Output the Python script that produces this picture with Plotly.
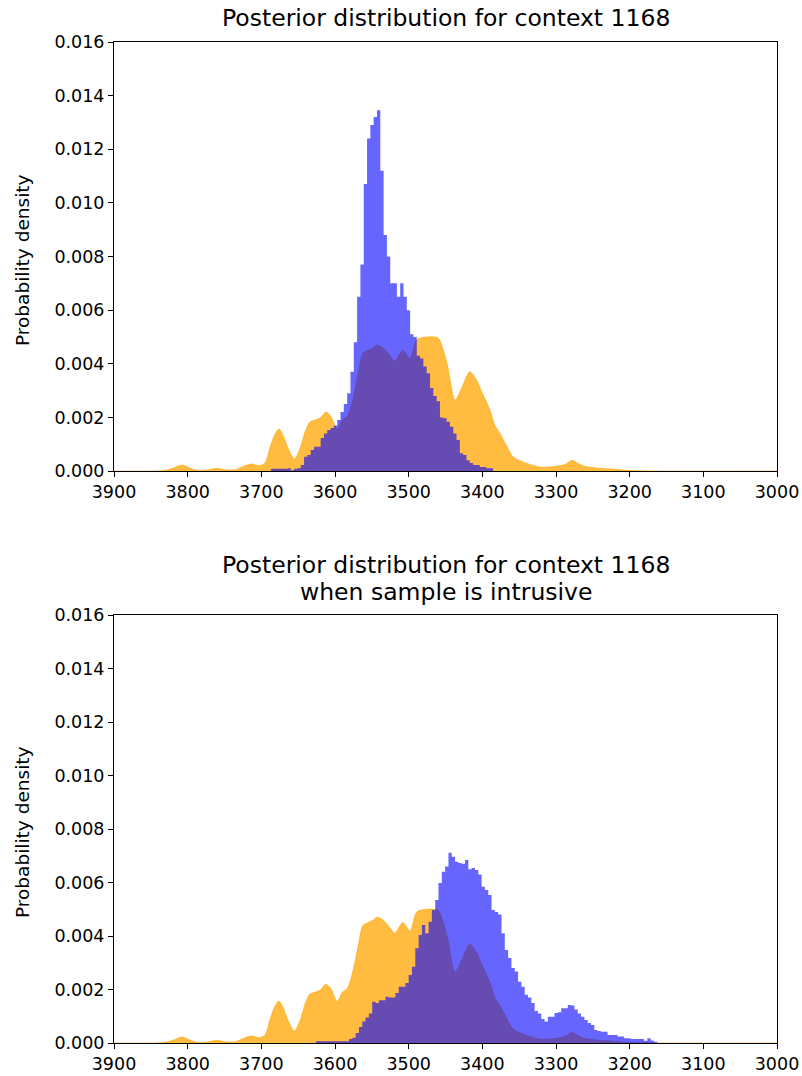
import numpy as np
import plotly.graph_objects as go

# ---------------- data ----------------
# prior / KDE curve (same in both panels)
kde_x = [3900, 3850, 3830, 3818, 3808, 3798, 3788, 3775, 3760, 3748, 3735, 3722, 3713,
         3703, 3695, 3688, 3681, 3676, 3670, 3663, 3655, 3648, 3640, 3634, 3627, 3620,
         3612, 3605, 3597, 3590, 3583, 3576, 3568, 3562, 3555, 3548, 3543, 3535, 3525,
         3519, 3508, 3498, 3489, 3475, 3460, 3454, 3447, 3437, 3428, 3417, 3408, 3400,
         3390, 3383, 3376, 3369, 3358, 3345, 3322, 3299, 3287, 3278, 3270, 3263, 3240,
         3223, 3200, 3150, 3000]
kde_y = [0, 0, 0.00003, 0.00012, 0.00022, 0.00012, 0.00003, 0.00003, 0.0001, 0.00004,
         0.00005, 0.0002, 0.00026, 0.0002, 0.0003, 0.0009, 0.0014, 0.00157, 0.0013,
         0.0008, 0.00045, 0.0008, 0.0015, 0.00183, 0.0019, 0.00198, 0.0022, 0.002,
         0.00155, 0.0019, 0.00205, 0.00265, 0.0037, 0.0044, 0.0045, 0.0046, 0.0047,
         0.0046, 0.0043, 0.0041, 0.0045, 0.0042, 0.0049, 0.005, 0.00496, 0.0046, 0.0039,
         0.00265, 0.0031, 0.0037, 0.0034, 0.0029, 0.0023, 0.0017, 0.0014, 0.00104,
         0.00052, 0.00034, 0.00015, 0.00018, 0.00025, 0.0004, 0.00028, 0.00019, 0.0001,
         0.00007, 0.00002, 0, 0]

bin_width = 4.5
top_start = 3687.0      # upper edge of first bin (bins run towards lower values)
top_density = [0.00008, 0.00008, 0.00008, 0.00008, 0.00008, 0.0001, 0.00003, 0.00008,
               0.0001, 0.00022, 0.00053, 0.0006, 0.00078, 0.0009, 0.0009, 0.00123,
               0.0014, 0.00153, 0.0016, 0.0017, 0.0019, 0.0022, 0.0025, 0.0029, 0.0037,
               0.0048, 0.0065, 0.0077, 0.0107, 0.0124, 0.0129, 0.0132, 0.01345, 0.0112,
               0.0088, 0.0080, 0.0070, 0.0070, 0.0065, 0.0070, 0.0065, 0.0060, 0.0051,
               0.0050, 0.0043, 0.0042, 0.0039, 0.00365, 0.0031, 0.0028, 0.0026, 0.0020,
               0.00197, 0.00184, 0.00165, 0.0014, 0.00116, 0.00066, 0.0006, 0.0004,
               0.0003, 0.00022, 0.00022, 0.00015, 0.00015, 0.0001, 0.0001]

bottom_start = 3626.0
bottom_density = [0.00007, 0.00007, 0.00007, 0.00007, 0.00007, 0.00007, 0.00007, 0.00007,
                  0.00007, 0.00007, 0.00015, 0.0002, 0.00037, 0.0006, 0.0008, 0.00095,
                  0.0011, 0.00154, 0.0015, 0.0016, 0.0016, 0.00173, 0.0017, 0.0017,
                  0.00187, 0.0021, 0.0021, 0.00224, 0.00254, 0.00285, 0.00354, 0.00404,
                  0.00441, 0.0041, 0.00453, 0.00497, 0.00535, 0.00598, 0.0064, 0.0066,
                  0.00711, 0.00696, 0.00678, 0.00673, 0.0067, 0.00684, 0.0065, 0.00654,
                  0.00647, 0.0063, 0.00584, 0.00572, 0.00553, 0.00497, 0.0049, 0.0048,
                  0.0041, 0.00348, 0.00318, 0.0028, 0.00267, 0.00229, 0.0021, 0.0018,
                  0.0017, 0.0015, 0.0012, 0.0011, 0.0009, 0.0008, 0.00098, 0.00098,
                  0.00112, 0.00115, 0.0013, 0.0013, 0.00142, 0.0014, 0.00125, 0.0011,
                  0.00098, 0.00086, 0.00075, 0.00067, 0.00049, 0.00045, 0.00042, 0.00042,
                  0.0003, 0.0003, 0.0003, 0.00024, 0.00024, 0.00018, 0.00018, 0.00015,
                  0.00015, 0.00015, 0.00015, 0.00008, 0.00018, 0.00009, 0.00005]

x_ticks = [3900, 3800, 3700, 3600, 3500, 3400, 3300, 3200, 3100, 3000]
y_ticks = [0.000, 0.002, 0.004, 0.006, 0.008, 0.010, 0.012, 0.014, 0.016]

title_top = "Posterior distribution for context 1168"
title_bottom_lines = ["Posterior distribution for context 1168", "when sample is intrusive"]
ylabel = "Probability density"


def step_xy(start, width, dens):
    edges = start - width * np.arange(len(dens) + 1)
    xs = [edges[0]]
    ys = [0.0]
    for i, d in enumerate(dens):
        xs.append(edges[i])
        ys.append(d)
    xs.append(edges[-1])
    ys.append(dens[-1])
    xs.append(edges[-1])
    ys.append(0.0)
    return xs, ys


W, H = 802, 1076
FONT = "DejaVu Sans"
ORANGE = "rgba(255,165,0,0.75)"
BLUE = "rgba(0,0,255,0.6)"

fig = go.Figure()

panels = [("x", "y", top_start, top_density), ("x2", "y2", bottom_start, bottom_density)]
for xa, ya, st, dens in panels:
    fig.add_trace(go.Scatter(x=kde_x, y=kde_y, mode="lines", line=dict(color=ORANGE, width=0.8,
                             shape="spline", smoothing=0.8), fill="tozeroy", fillcolor=ORANGE,
                             xaxis=xa, yaxis=ya, showlegend=False, hoverinfo="skip"))
    sx, sy = step_xy(st, bin_width, dens)
    fig.add_trace(go.Scatter(x=sx, y=sy, mode="lines", line=dict(color="rgba(0,0,0,0)", width=0,
                             shape="hv"), fill="tozeroy", fillcolor=BLUE,
                             xaxis=xa, yaxis=ya, showlegend=False, hoverinfo="skip"))

xdom = [114 / W, 777 / W]
ydom_top = [1 - 471 / H, 1 - 42 / H]
ydom_bot = [1 - 1043 / H, 1 - 615 / H]

axis_common = dict(showline=True, mirror=True, linecolor="black", linewidth=1,
                   ticks="outside", ticklen=5, tickwidth=1, tickcolor="black",
                   showgrid=False, zeroline=False, automargin=False,
                   tickfont=dict(family=FONT, size=17.5, color="black"))

fig.update_layout(
    width=W, height=H,
    margin=dict(l=0, r=0, t=0, b=0, pad=0),
    paper_bgcolor="white", plot_bgcolor="white",
    xaxis=dict(domain=xdom, anchor="y", range=[3900, 3000], tickvals=x_ticks, **axis_common),
    yaxis=dict(domain=ydom_top, anchor="x", range=[0, 0.016], tickvals=y_ticks,
               tickformat=".3f", **axis_common),
    xaxis2=dict(domain=xdom, anchor="y2", range=[3900, 3000], tickvals=x_ticks, **axis_common),
    yaxis2=dict(domain=ydom_bot, anchor="x2", range=[0, 0.016], tickvals=y_ticks,
                tickformat=".3f", **axis_common),
    font=dict(family=FONT, color="black"),
)

cx = (xdom[0] + xdom[1]) / 2
title_font = dict(family=FONT, size=23.5, color="black")
fig.add_annotation(text=title_top, xref="paper", yref="paper", x=cx, y=1 - 18 / H,
                   xanchor="center", yanchor="middle", showarrow=False, font=title_font)
for line, yc in zip(title_bottom_lines, [565, 592]):
    fig.add_annotation(text=line, xref="paper", yref="paper", x=cx, y=1 - yc / H,
                       xanchor="center", yanchor="middle", showarrow=False, font=title_font)
for yc in [260, 832]:
    fig.add_annotation(text=ylabel, xref="paper", yref="paper", x=22 / W, y=1 - yc / H,
                       xanchor="center", yanchor="middle", textangle=-90, showarrow=False,
                       font=dict(family=FONT, size=18.5, color="black"))

fig.write_html("out.html")
